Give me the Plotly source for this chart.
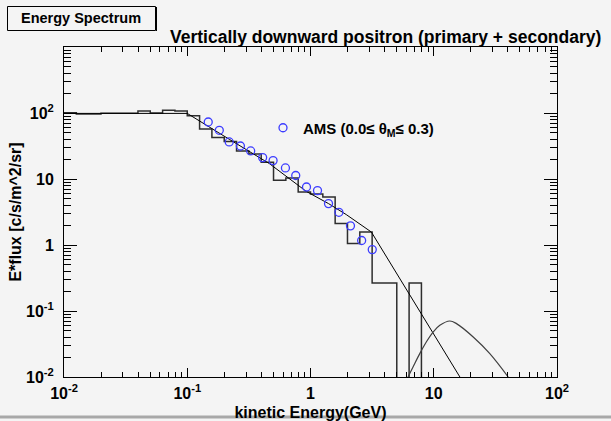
import numpy as np
import plotly.graph_objects as go

# ---------------- data ----------------
# AMS measured points (kinetic energy GeV, E*flux)
ams_energy = [0.148, 0.182, 0.219, 0.270, 0.327, 0.409, 0.497, 0.626, 0.759,
              0.928, 1.14, 1.40, 1.70, 2.11, 2.60, 3.17]
ams_flux = [73.1, 54.7, 36.4, 31.6, 26.6, 21.1, 19.0, 14.7, 11.3,
            7.56, 6.67, 4.24, 3.13, 1.95, 1.17, 0.852]

# simulated histogram: 40 log bins from 1e-2 to 1e2 GeV (0 = empty bin)
hist_values = [101, 96.6, 96.6, 99, 99, 99, 107, 100, 110, 107,
               91, 57, 42.4, 37, 26.6, 24, 18, 9.55, 10.4, 6.35,
               5.9, 5.34, 2.11, 1.05, 1.57, 0.266, 0.266, 0, 0.266, 0,
               0, 0, 0, 0, 0, 0, 0, 0, 0, 0]
hist_edges = np.logspace(-2, 2, len(hist_values) + 1)

# model curve (primary + secondary)
model_energy = [0.01, 0.1, 0.219, 0.464, 0.923, 1.40, 1.95, 3.12, 16.3]
model_flux = [98.6, 98.6, 40.0, 17.1, 6.5, 4.24, 2.89, 1.57, 0.01]

# high-energy bump curve
bump_energy = [6.18, 6.79, 7.7, 8.7, 9.87, 11.2, 13.5, 15.3, 20.9, 28.5, 40.2]
bump_flux = [0.01, 0.0142, 0.0226, 0.0339, 0.048, 0.0607, 0.0705, 0.0644,
             0.0404, 0.0226, 0.01]

x_tick_vals = [0.01, 0.1, 1, 10, 100]
x_tick_text = ["10<sup>-2</sup>", "10<sup>-1</sup>", "1", "10", "10<sup>2</sup>"]
y_tick_vals = [0.01, 0.1, 1, 10, 100]
y_tick_text = ["10<sup>-2</sup>", "10<sup>-1</sup>", "1", "10", "10<sup>2</sup>"]

# ---------------- layout constants ----------------
W, H = 611, 421
ML, MR, MT, MB = 64, 54, 47, 44
PW, PH = W - ML - MR, H - MT - MB
BG = "#f4f4f4"
FONT = "Liberation Sans"


def px_x(px):
    return (px - ML) / PW


def px_y(py):
    return (H - MB - py) / PH


x_minor = [m * 10.0 ** e for e in range(-2, 2) for m in range(2, 10)]
y_minor = [m * 10.0 ** e for e in range(-2, 3) for m in range(2, 10)]

hist_draw = [v if v > 0 else 1e-9 for v in hist_values]
hist_draw = hist_draw + [hist_draw[-1]]

fig = go.Figure()
fig.add_trace(go.Scatter(x=hist_edges, y=hist_draw, mode="lines", line_shape="hv",
                         line=dict(color="#2e2e2e", width=1.5), showlegend=False,
                         hoverinfo="skip"))
fig.add_trace(go.Scatter(x=model_energy, y=model_flux, mode="lines",
                         line=dict(color="black", width=1), showlegend=False,
                         hoverinfo="skip"))
fig.add_trace(go.Scatter(x=bump_energy, y=bump_flux, mode="lines", line_shape="spline",
                         line=dict(color="#404040", width=1.2), showlegend=False,
                         hoverinfo="skip"))
fig.add_trace(go.Scatter(x=ams_energy, y=ams_flux, mode="markers",
                         name="AMS (0.0\u2264 \u03b8<sub>M</sub>\u2264 0.3)",
                         marker=dict(symbol="circle-open", size=8,
                                     line=dict(color="#3c3cff", width=1.3),
                                     color="#3c3cff"),
                         showlegend=True))

axis_common = dict(type="log", showline=True, linecolor="black", linewidth=1,
                   mirror="allticks", ticks="inside", tickcolor="black", tickwidth=1,
                   showgrid=False, zeroline=False, tickmode="array", automargin=False,
                   tickfont=dict(family=FONT, size=16, color="black", weight="bold"))

fig.update_layout(
    width=W, height=H,
    margin=dict(l=ML, r=MR, t=MT, b=MB, pad=0, autoexpand=False),
    paper_bgcolor=BG, plot_bgcolor=BG,
    font=dict(family=FONT, color="black", size=16),
    xaxis=dict(axis_common, range=[-2, 2], tickvals=x_tick_vals, ticktext=x_tick_text,
               ticklen=9, ticklabelstandoff=2,
               minor=dict(tickmode="array", tickvals=x_minor, ticks="inside", ticklen=5,
                          tickcolor="black", tickwidth=1, showgrid=False),
               title=dict(text="kinetic Energy(GeV)", standoff=8,
                          font=dict(family=FONT, size=16, weight="bold"))),
    yaxis=dict(axis_common, range=[-2, 3], tickvals=y_tick_vals, ticktext=y_tick_text,
               ticklen=13, ticklabelstandoff=6,
               minor=dict(tickmode="array", tickvals=y_minor, ticks="inside", ticklen=7,
                          tickcolor="black", tickwidth=1, showgrid=False),
               title=dict(text="E*flux [c/s/m^2/sr]", standoff=0,
                          font=dict(family=FONT, size=16, weight="bold"))),
    legend=dict(x=px_x(263), y=px_y(128), xanchor="left", yanchor="middle",
                bgcolor="rgba(0,0,0,0)", borderwidth=0,
                font=dict(family=FONT, size=15, weight="bold")),
    shapes=[
        dict(type="rect", xref="paper", yref="paper",
             x0=px_x(7.5), x1=px_x(155.5), y0=px_y(30.5), y1=px_y(6.5),
             line=dict(color="black", width=1), fillcolor=BG, layer="below"),
        dict(type="line", xref="paper", yref="paper",
             x0=px_x(156.5), x1=px_x(156.5), y0=px_y(31), y1=px_y(7),
             line=dict(color="black", width=1)),
        dict(type="rect", xref="paper", yref="paper",
             x0=px_x(0), x1=px_x(W), y0=px_y(418.5), y1=px_y(415.5),
             line=dict(width=0), fillcolor="#a8a8a8"),
    ],
    annotations=[
        dict(text="Energy Spectrum", xref="paper", yref="paper",
             x=px_x(81), y=px_y(18.5), xanchor="center", yanchor="middle",
             showarrow=False, font=dict(family=FONT, size=14.5, weight="bold")),
        dict(text="Vertically downward positron (primary + secondary)",
             xref="paper", yref="paper", x=px_x(603), y=px_y(37),
             xanchor="right", yanchor="middle", showarrow=False,
             font=dict(family=FONT, size=17.5, weight="bold")),
    ],
)

fig.write_html("out.html", config={"displayModeBar": False},
               post_script="document.body.style.margin='0';"
                           "document.body.style.overflow='hidden';")
